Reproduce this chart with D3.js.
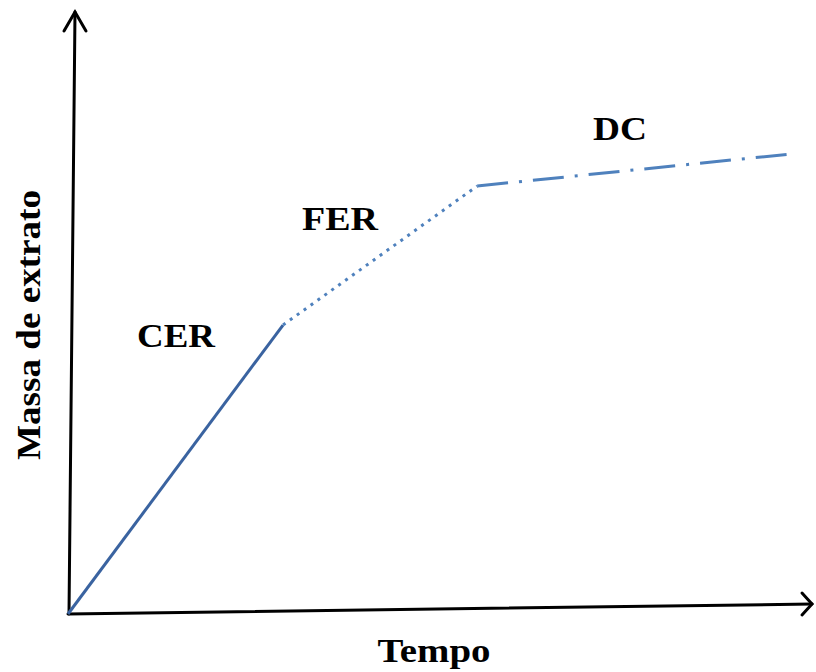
<!DOCTYPE html>
<html>
<head>
<meta charset="utf-8">
<script src="https://cdn.jsdelivr.net/npm/d3@7"></script>
<style>
  html, body { margin: 0; padding: 0; background: #fff; }
  svg { display: block; }
  text { font-family: "Liberation Serif", "Times New Roman", serif; font-weight: bold; fill: #000; }
</style>
</head>
<body>
<svg id="chart" width="816" height="672"></svg>
<script>
// ---- data ----
const stages = ["CER", "FER", "DC"];
const stageTime = [0, 2.89, 5.50, 9.70];   // breakpoints along Tempo
const stageMass = [0, 4.80, 7.11, 7.64];   // Massa de extrato at breakpoints
const xAxisTitle = "Tempo";
const yAxisTitle = "Massa de extrato";

// ---- layout ----
const W = 816, H = 672;
const svg = d3.select("#chart");
const x = d3.scaleLinear().domain([0, 10]).range([68, 812]);
const y = d3.scaleLinear().domain([0, 10]).range([614, 12]);

const styles = {
  CER: { color: "#3A63A0", dash: null },
  FER: { color: "#4F81BD", dash: "3,5.5" },
  DC:  { color: "#4F81BD", dash: "31,11,3,11" }
};

// axes (hand-drawn look: slightly skewed)
const xSkew = -10, ySkew = 7;
const ax = svg.append("g").attr("fill", "none").attr("stroke", "#000")
  .attr("stroke-width", 3).attr("stroke-linecap", "round").attr("stroke-linejoin", "miter");
const x0 = x(0), y0 = y(0);
const xTip = [x(10), y(0) + xSkew];
const yTip = [x(0) + ySkew, y(10)];
ax.append("line").attr("x1", x0).attr("y1", y0).attr("x2", xTip[0]).attr("y2", xTip[1]);
ax.append("line").attr("x1", x0 + 1).attr("y1", y0).attr("x2", yTip[0]).attr("y2", yTip[1]);
ax.append("path").attr("d", `M${xTip[0] - 10},${xTip[1] - 11} L${xTip[0]},${xTip[1]} L${xTip[0] - 10},${xTip[1] + 11}`);
ax.append("path").attr("d", `M${yTip[0] - 11},${yTip[1] + 19} L${yTip[0]},${yTip[1]} L${yTip[0] + 11},${yTip[1] + 19}`);

// stage segments
const line = d3.line().x(d => x(d[0])).y(d => y(d[1]));
stages.forEach((s, i) => {
  const pts = [[stageTime[i], stageMass[i]], [stageTime[i + 1], stageMass[i + 1]]];
  const p = svg.append("path").attr("d", line(pts))
    .attr("fill", "none").attr("stroke", styles[s].color).attr("stroke-width", 3);
  if (styles[s].dash) p.attr("stroke-dasharray", styles[s].dash);
});

// stage labels
const labelPos = { CER: [176, 347, 78], FER: [340, 230, 76], DC: [620, 140, 54] };
stages.forEach(s => {
  const [lx, ly, tl] = labelPos[s];
  svg.append("text").attr("x", lx).attr("y", ly).attr("text-anchor", "middle")
    .attr("font-size", 33).attr("textLength", tl).attr("lengthAdjust", "spacingAndGlyphs")
    .text(s);
});

// axis titles
svg.append("text").attr("x", 434).attr("y", 662).attr("text-anchor", "middle")
  .attr("font-size", 33).attr("textLength", 113).attr("lengthAdjust", "spacingAndGlyphs")
  .text(xAxisTitle);
svg.append("text").attr("transform", "translate(40,325) rotate(-90)").attr("text-anchor", "middle")
  .attr("font-size", 33).attr("textLength", 270).attr("lengthAdjust", "spacingAndGlyphs")
  .text(yAxisTitle);
</script>
</body>
</html>
